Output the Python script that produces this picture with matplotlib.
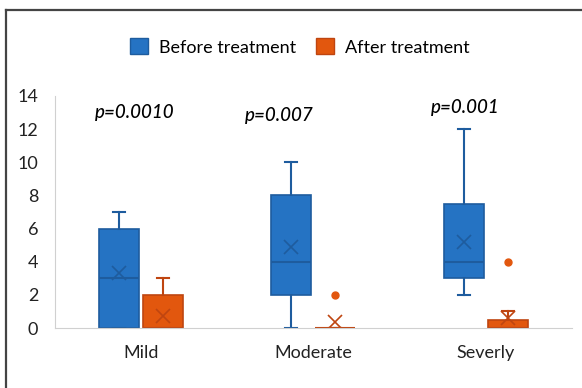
import matplotlib.pyplot as plt
from matplotlib.lines import Line2D
from matplotlib.patches import Patch

plt.rcParams['font.family'] = ['Lato', 'DejaVu Sans']

# Data (box-and-whisker summary stats)
categories = ['Mild', 'Moderate', 'Severly']
p_values = ['p=0.0010', 'p=0.007', 'p=0.001']

before_q1 = [0, 2, 3]
before_med = [3, 4, 4]
before_q3 = [6, 8, 7.5]
before_lo = [0, 0, 2]
before_hi = [7, 10, 12]
before_mean = [3.3, 4.9, 5.2]
before_fliers = [[], [], []]

after_q1 = [0, 0, 0]
after_med = [0, 0, 0]
after_q3 = [2, 0, 0.5]
after_lo = [0, 0, 0]
after_hi = [3, 0, 1]
after_mean = [0.75, 0.38, 0.6]
after_fliers = [[], [2], [4]]

blue, blue_edge = '#2573C3', '#1E5C9E'
orange, orange_edge = '#E2570E', '#BF4510'


def make_stats(q1, med, q3, lo, hi, mean, fliers):
    return [dict(q1=q1[i], med=med[i], q3=q3[i], whislo=lo[i], whishi=hi[i],
                 mean=mean[i], fliers=fliers[i]) for i in range(len(q1))]


fig = plt.figure(figsize=(5.82, 3.88), dpi=100)
ax = fig.add_axes([0.0945, 0.1546, 0.888, 0.598])

pos = list(range(len(categories)))
off = 0.128
w = 0.232

for stats, shift, fc, ec in [
        (make_stats(before_q1, before_med, before_q3, before_lo, before_hi, before_mean, before_fliers), -off, blue, blue_edge),
        (make_stats(after_q1, after_med, after_q3, after_lo, after_hi, after_mean, after_fliers), off, orange, orange_edge)]:
    ax.bxp(stats, positions=[p + shift for p in pos], widths=w, patch_artist=True,
           showmeans=True, manage_ticks=False,
           boxprops=dict(facecolor=fc, edgecolor=ec, linewidth=1.2),
           medianprops=dict(color=ec, linewidth=1.5),
           whiskerprops=dict(color=ec, linewidth=1.5),
           capprops=dict(color=ec, linewidth=1.5),
           capwidths=0.07,
           meanprops=dict(marker='x', markeredgecolor=ec, markersize=10, markeredgewidth=1.2),
           flierprops=dict(marker='o', markerfacecolor=fc, markeredgecolor=fc, markersize=5))

ax.set_xlim(-0.5, 2.5)
ax.set_ylim(0, 14)
ax.set_yticks(range(0, 15, 2))
ax.set_xticks(pos)
ax.set_xticklabels(categories)
ax.tick_params(axis='both', length=0, labelsize=13, colors='#222222')
ax.tick_params(axis='x', pad=12)
ax.tick_params(axis='y', pad=12)
for s in ['top', 'right']:
    ax.spines[s].set_visible(False)
for s in ['left', 'bottom']:
    ax.spines[s].set_color('#d0d0d0')

# p-values
p_x = [-0.04, 0.8, 1.88]
p_y = [13.0, 12.8, 13.3]
for x, y, t in zip(p_x, p_y, p_values):
    ax.text(x, y, t, ha='center', va='center', fontsize=13.5, style='italic',
            weight='medium', color='black')

handles = [Patch(facecolor=blue, edgecolor=blue_edge, label='Before treatment'),
           Patch(facecolor=orange, edgecolor=orange_edge, label='After treatment')]
fig.legend(handles=handles, loc='center', bbox_to_anchor=(0.515, 0.879), ncol=2, frameon=False,
           fontsize=13, handlelength=1.0, handleheight=1.0, columnspacing=1.1, handletextpad=0.6)

# frame lines (left and top)
fig.add_artist(Line2D([0.0105, 0.0105], [0, 0.975], color='#444444', linewidth=1.6))
fig.add_artist(Line2D([0.0105, 1.0], [0.975, 0.975], color='#444444', linewidth=1.6))

fig.savefig('out.png', dpi=100)
